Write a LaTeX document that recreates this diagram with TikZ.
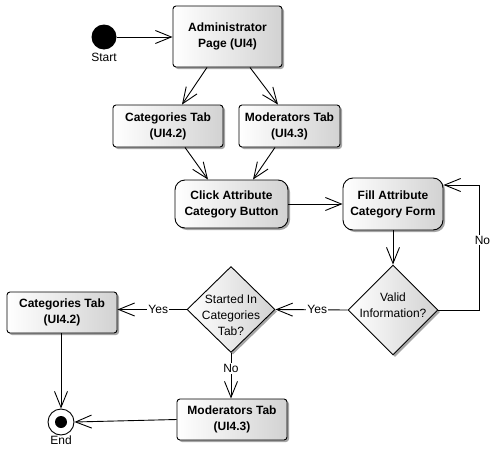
\documentclass[tikz,border=0pt]{standalone}
\usepackage{fontspec}
\setmainfont{Liberation Sans}
\usetikzlibrary{arrows.meta,shapes.geometric,shadows,calc}
\begin{document}
\begin{tikzpicture}[x=1pt,y=-1pt,
  font=\fontsize{12}{15}\selectfont,
  >={Straight Barb[length=16pt,width=13pt,line width=0.9pt]},
  conn/.style={draw,line width=0.9pt,->},
  shade/.style={left color=white,right color={rgb,255:red,210;green,210;blue,210},
    drop shadow={shadow xshift=2pt,shadow yshift=-2pt,fill=black,opacity=0.35}},
  actbox/.style={shade,draw,line width=0.9pt,rectangle,rounded corners=3pt,
    align=center,font=\fontsize{12}{16}\selectfont\bfseries,inner sep=0pt},
  actround/.style={actbox,rounded corners=10pt},
  decision/.style={shade,draw,line width=0.9pt,diamond,inner sep=0pt},
  dectext/.style={align=center,inner sep=0pt,font=\fontsize{12}{16}\selectfont},
  lbl/.style={fill=white,inner sep=1pt}]
\useasboundingbox (0,0) rectangle (495,450);

\node[circle,fill=black,minimum size=25pt,inner sep=0pt] (start) at (104,37) {};
\node (startlbl) at (104,57) {Start};

\node[actbox,minimum width=109pt,minimum height=61pt] (admin) at (227.5,36.5) {Administrator\\Page (UI4)};
\node[actbox,minimum width=110pt,minimum height=42pt] (cat1) at (168,126) {Categories Tab\\(UI4.2)};
\node[actbox,minimum width=101pt,minimum height=42pt] (mod1) at (289.5,126) {Moderators Tab\\(UI4.3)};
\node[actround,minimum width=113pt,minimum height=48pt] (click) at (231.5,204) {Click Attribute\\Category Button};
\node[actround,minimum width=100pt,minimum height=52pt] (fill) at (393,204) {Fill Attribute\\Category Form};
\node[decision,minimum width=90pt,minimum height=90pt] (valid) at (393,310) {};
\node[dectext] (validtxt) at (393,305) {Valid\\Information?};
\node[decision,minimum width=88pt,minimum height=86pt] (started) at (231,309.5) {};
\node[dectext] (startedtxt) at (231,315) {Started In\\Categories\\Tab?};
\node[actbox,minimum width=110pt,minimum height=41pt] (cat2) at (62,312.5) {Categories Tab\\(UI4.2)};
\node[actbox,minimum width=110pt,minimum height=41pt] (mod2) at (232,419.5) {Moderators Tab\\(UI4.3)};
\node[circle,draw,line width=0.9pt,fill=white,minimum size=26pt,inner sep=0pt] (end) at (61,422) {};
\node[circle,fill=black,minimum size=12pt,inner sep=0pt] (enddot) at (end) {};
\node (endlbl) at (61,440) {End};

\coordinate (fillin) at ([yshift=19pt]fill.east);
\coordinate (loopc) at ([xshift=41pt]valid.east);

\draw[conn] (start) -- (admin.west |- start);
\draw[conn] ([xshift=-20.5pt]admin.south) -- ([xshift=14pt]cat1.north);
\draw[conn] ([xshift=22.5pt]admin.south) -- ([xshift=-11.5pt]mod1.north);
\draw[conn] ([xshift=17pt]cat1.south) -- ([xshift=-23.5pt]click.north);
\draw[conn] ([xshift=-14.5pt]mod1.south) -- ([xshift=21.5pt]click.north);
\draw[conn] (click.east) -- (fill.west |- click.east);
\draw[conn] (fill.south) -- (valid.north);
\draw[conn] (valid.east) -- (loopc)
  -- node[lbl,pos=0.56,xshift=3pt] {No} (loopc |- fillin) -- (fillin);
\draw[conn] (valid.west) -- node[lbl,pos=0.42] {Yes} (started.east);
\draw[conn] (started.west) -- node[lbl,pos=0.41] {Yes} (cat2.east |- started.west);
\draw[conn] (started.south) -- node[lbl,pos=0.34] {No} (mod2.north -| started.south);
\draw[conn] (cat2.south -| end) -- (end.north);
\draw[conn] (mod2.west) -- (end.east);
\end{tikzpicture}
\end{document}
